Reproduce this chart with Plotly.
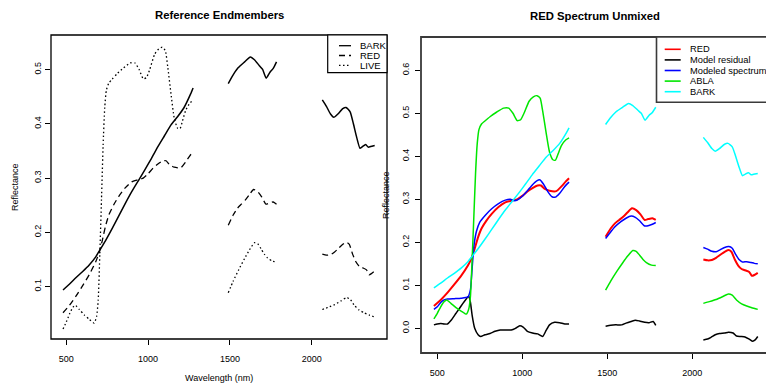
import plotly.graph_objects as go

# ---------------- data ----------------
BARK_WL = [480, 520, 560, 600, 640, 680, 700, 740, 780, 820, 860, 900, 940, 980, 1020, 1060, 1100, 1140, 1180, 1220, 1260, 1275, None,
           1490, 1520, 1550, 1590, 1625, 1650, 1680, 1700, 1722, 1745, 1765, 1785, None,
           2065, 2090, 2115, 2135, 2160, 2190, 2210, 2235, 2255, 2275, 2295, 2310, 2330, 2345, 2360, 2385]
BARK_R = [0.094, 0.105, 0.117, 0.128, 0.140, 0.155, 0.165, 0.185, 0.207, 0.230, 0.253, 0.275, 0.295, 0.315, 0.336, 0.358, 0.378, 0.398, 0.413, 0.430, 0.455, 0.466, None,
          0.474, 0.490, 0.503, 0.514, 0.523, 0.518, 0.507, 0.500, 0.484, 0.495, 0.502, 0.514, None,
          0.444, 0.432, 0.418, 0.412, 0.418, 0.428, 0.430, 0.422, 0.400, 0.375, 0.355, 0.358, 0.362, 0.357, 0.358, 0.360]

RED_WL = [480, 520, 560, 600, 640, 680, 700, 720, 740, 760, 790, 820, 860, 900, 940, 970, 1000, 1030, 1060, 1090, 1110, 1130, 1160, 1200, 1230, 1255, 1275, None,
          1490, 1520, 1545, 1570, 1595, 1620, 1645, 1670, 1695, 1720, 1740, 1765, 1785, None,
          2065, 2090, 2115, 2140, 2165, 2190, 2212, 2230, 2250, 2270, 2290, 2310, 2335, 2350, 2365, 2385]
RED_R = [0.052, 0.066, 0.083, 0.102, 0.122, 0.146, 0.162, 0.185, 0.212, 0.232, 0.251, 0.266, 0.282, 0.293, 0.297, 0.300, 0.308, 0.318, 0.326, 0.332, 0.332, 0.325, 0.320, 0.319, 0.330, 0.341, 0.349, None,
         0.213, 0.232, 0.244, 0.252, 0.260, 0.270, 0.279, 0.275, 0.265, 0.252, 0.254, 0.256, 0.252, None,
         0.160, 0.158, 0.159, 0.164, 0.171, 0.178, 0.182, 0.178, 0.160, 0.146, 0.138, 0.135, 0.131, 0.122, 0.124, 0.129]

LIVE_WL = [480, 500, 520, 540, 555, 580, 610, 640, 670, 685, 695, 705, 715, 725, 735, 745, 760, 780, 810, 850, 890, 920, 945, 970, 990, 1010, 1040, 1065, 1087, 1105, 1120, 1140, 1160, 1180, 1195, 1210, 1230, 1255, 1275, None,
           1490, 1520, 1555, 1590, 1620, 1650, 1670, 1690, 1710, 1730, 1760, 1785, None,
           2065, 2100, 2140, 2180, 2212, 2235, 2260, 2290, 2320, 2350, 2385]
LIVE_R = [0.022, 0.035, 0.050, 0.062, 0.066, 0.058, 0.048, 0.040, 0.033, 0.045, 0.075, 0.160, 0.260, 0.360, 0.430, 0.462, 0.475, 0.482, 0.492, 0.503, 0.512, 0.512, 0.500, 0.483, 0.485, 0.500, 0.528, 0.538, 0.541, 0.535, 0.505, 0.455, 0.410, 0.392, 0.391, 0.405, 0.425, 0.438, 0.443, None,
          0.089, 0.110, 0.132, 0.152, 0.168, 0.181, 0.179, 0.170, 0.160, 0.153, 0.147, 0.146, None,
          0.058, 0.062, 0.067, 0.074, 0.080, 0.077, 0.066, 0.057, 0.052, 0.048, 0.044]

MOD_WL = [480, 500, 520, 540, 560, 600, 640, 680, 695, 705, 715, 730, 750, 780, 820, 860, 900, 930, 950, 970, 1000, 1030, 1060, 1085, 1105, 1125, 1150, 1175, 1195, 1220, 1250, 1275, None,
          1490, 1520, 1545, 1580, 1610, 1640, 1665, 1690, 1720, 1745, 1765, 1785, None,
          2065, 2090, 2115, 2140, 2165, 2190, 2215, 2235, 2255, 2275, 2295, 2320, 2345, 2365, 2385]
MOD_R = [0.044, 0.050, 0.060, 0.066, 0.068, 0.069, 0.070, 0.073, 0.090, 0.140, 0.190, 0.225, 0.247, 0.262, 0.278, 0.290, 0.298, 0.300, 0.297, 0.298, 0.307, 0.320, 0.334, 0.343, 0.345, 0.335, 0.318, 0.306, 0.305, 0.314, 0.330, 0.340, None,
         0.209, 0.224, 0.236, 0.248, 0.256, 0.261, 0.258, 0.250, 0.238, 0.239, 0.242, 0.246, None,
         0.188, 0.184, 0.179, 0.178, 0.183, 0.188, 0.190, 0.186, 0.172, 0.160, 0.154, 0.155, 0.153, 0.151, 0.150]

RES_WL = [480, 500, 520, 540, 560, 580, 610, 640, 670, 685, 695, 705, 720, 740, 755, 780, 810, 840, 870, 900, 935, 960, 985, 1005, 1030, 1060, 1090, 1120, 1140, 1160, 1190, 1220, 1250, 1275, None,
          1490, 1520, 1550, 1585, 1610, 1640, 1665, 1690, 1720, 1745, 1770, 1785, None,
          2065, 2090, 2110, 2135, 2160, 2190, 2212, 2240, 2260, 2285, 2310, 2335, 2355, 2370, 2385]
RES_R = [0.008, 0.010, 0.011, 0.010, 0.010, 0.018, 0.035, 0.052, 0.068, 0.075, 0.060, 0.030, 0.000, -0.015, -0.019, -0.015, -0.012, -0.007, -0.004, -0.004, -0.004, 0.000, 0.006, 0.003, -0.007, -0.011, -0.013, -0.019, -0.005, 0.008, 0.014, 0.013, 0.010, 0.010, None,
         0.005, 0.007, 0.008, 0.008, 0.012, 0.016, 0.019, 0.017, 0.014, 0.013, 0.016, 0.007, None,
         -0.027, -0.025, -0.021, -0.015, -0.012, -0.011, -0.009, -0.011, -0.018, -0.019, -0.020, -0.025, -0.030, -0.027, -0.019]

X_TICKS = [500, 1000, 1500, 2000]
Y1_TICKS = [0.1, 0.2, 0.3, 0.4, 0.5]
Y2_TICKS = [0.0, 0.1, 0.2, 0.3, 0.4, 0.5, 0.6]
LEFT_LEGEND = ["BARK", "RED", "LIVE"]
RIGHT_LEGEND = ["RED", "Model residual", "Modeled spectrum", "ABLA", "BARK"]

# ---------------- figure ----------------
W, H = 766, 390
FONT = "Liberation Sans, Arial, sans-serif"


def px(x):
    return x / W


def py(y):
    return 1 - y / H


fig = go.Figure()
LS = dict(shape="spline", smoothing=0.5)

# left panel
fig.add_trace(go.Scatter(x=BARK_WL, y=BARK_R, mode="lines", line=dict(color="black", width=1.5, **LS), xaxis="x", yaxis="y"))
fig.add_trace(go.Scatter(x=RED_WL, y=RED_R, mode="lines", line=dict(color="black", width=1.3, dash="6px,4px", **LS), xaxis="x", yaxis="y"))
fig.add_trace(go.Scatter(x=LIVE_WL, y=LIVE_R, mode="lines", line=dict(color="black", width=1.3, dash="1.5px,2.5px", **LS), xaxis="x", yaxis="y"))

# right panel
RC = {"RED": "#FF0000", "Model residual": "#000000", "Modeled spectrum": "#0000FF", "ABLA": "#00E600", "BARK": "#00FFFF"}
fig.add_trace(go.Scatter(x=RED_WL, y=RED_R, mode="lines", line=dict(color=RC["RED"], width=2, **LS), xaxis="x2", yaxis="y2"))
fig.add_trace(go.Scatter(x=RES_WL, y=RES_R, mode="lines", line=dict(color=RC["Model residual"], width=1.5, **LS), xaxis="x2", yaxis="y2"))
fig.add_trace(go.Scatter(x=MOD_WL, y=MOD_R, mode="lines", line=dict(color=RC["Modeled spectrum"], width=1.5, **LS), xaxis="x2", yaxis="y2"))
fig.add_trace(go.Scatter(x=LIVE_WL, y=LIVE_R, mode="lines", line=dict(color=RC["ABLA"], width=1.5, **LS), xaxis="x2", yaxis="y2"))
fig.add_trace(go.Scatter(x=BARK_WL, y=BARK_R, mode="lines", line=dict(color=RC["BARK"], width=1.5, **LS), xaxis="x2", yaxis="y2"))

# panel geometry (pixels)
L1, R1, T1, B1 = 51, 387, 35, 339
L2, R2, T2, B2 = 421, 769, 37, 353

axis_common = dict(showgrid=False, zeroline=False, showline=False, ticks="outside", ticklen=5,
                   tickwidth=1, tickcolor="black", tickfont=dict(family=FONT, size=9, color="black"))

fig.update_layout(
    width=W, height=H, margin=dict(l=0, r=0, t=0, b=0),
    paper_bgcolor="white", plot_bgcolor="white", showlegend=False,
    xaxis=dict(domain=[px(L1), px(R1)], range=[406.5, 2460.3], tickvals=X_TICKS, anchor="y",
               ticklabelstandoff=6, **axis_common),
    yaxis=dict(domain=[py(B1), py(T1)], range=[0.0037, 0.5635], tickvals=Y1_TICKS, tickformat=".1f",
               tickangle=-90, anchor="x", ticklabelstandoff=0, **axis_common),
    xaxis2=dict(domain=[px(L2), 1.0], range=[404.1, 2433.5], tickvals=X_TICKS, anchor="y2",
                ticklabelstandoff=6, **axis_common),
    yaxis2=dict(domain=[py(B2), py(T2)], range=[-0.0574, 0.6774], tickvals=Y2_TICKS, tickformat=".1f",
                tickangle=-90, anchor="x2", ticklabelstandoff=2, **axis_common),
)

shapes = []
ann = []
# plot boxes
shapes.append(dict(type="rect", xref="paper", yref="paper", x0=px(L1), x1=px(R1), y0=py(B1), y1=py(T1),
                   line=dict(color="black", width=1.3), layer="above"))
shapes.append(dict(type="rect", xref="paper", yref="paper", x0=px(L2), x1=px(R2 + 2), y0=py(B2), y1=py(T2),
                   line=dict(color="#3a3a3a", width=1.8), layer="above"))

# left legend
shapes.append(dict(type="rect", xref="paper", yref="paper", x0=px(327.7), x1=px(R1), y0=py(72.7), y1=py(T1),
                   line=dict(color="black", width=1.2), fillcolor="white", layer="above"))
left_dash = ["solid", "6px,4px", "1.5px,2.5px"]
for i, name in enumerate(LEFT_LEGEND):
    yy = 45.7 + i * 9.8
    shapes.append(dict(type="line", xref="paper", yref="paper", x0=px(339), x1=px(351), y0=py(yy), y1=py(yy),
                       line=dict(color="black", width=1.3, dash=left_dash[i]), layer="above"))
    ann.append(dict(x=px(357.5), y=py(yy), xref="paper", yref="paper", text=name, showarrow=False,
                    xanchor="left", yanchor="middle", font=dict(family=FONT, size=9.5, color="black")))

# right legend
shapes.append(dict(type="rect", xref="paper", yref="paper", x0=px(656.5), x1=px(790), y0=py(102.3), y1=py(T2),
                   line=dict(color="#3a3a3a", width=1.6), fillcolor="white", layer="above"))
for i, name in enumerate(RIGHT_LEGEND):
    yy = 49.3 + i * 10.6
    shapes.append(dict(type="line", xref="paper", yref="paper", x0=px(664.7), x1=px(680.7), y0=py(yy), y1=py(yy),
                       line=dict(color=RC[name], width=1.6), layer="above"))
    ann.append(dict(x=px(687.5), y=py(yy), xref="paper", yref="paper", text=name, showarrow=False,
                    xanchor="left", yanchor="middle", font=dict(family=FONT, size=9.3, color="black")))

# titles
ann.append(dict(x=px((L1 + R1) / 2), y=py(15.5), xref="paper", yref="paper", text="<b>Reference Endmembers</b>",
                showarrow=False, xanchor="center", yanchor="middle", font=dict(family=FONT, size=11.3, color="black")))
ann.append(dict(x=px((L2 + R2) / 2), y=py(16), xref="paper", yref="paper", text="<b>RED Spectrum Unmixed</b>",
                showarrow=False, xanchor="center", yanchor="middle", font=dict(family=FONT, size=11.3, color="black")))
# axis titles
ann.append(dict(x=px((L1 + R1) / 2), y=py(378), xref="paper", yref="paper", text="Wavelength (nm)",
                showarrow=False, xanchor="center", yanchor="middle", font=dict(family=FONT, size=9, color="black")))
ann.append(dict(x=px(15), y=py((T1 + B1) / 2), xref="paper", yref="paper", text="Reflectance", textangle=-90,
                showarrow=False, xanchor="center", yanchor="middle", font=dict(family=FONT, size=9, color="black")))
ann.append(dict(x=px(386), y=py((T2 + B2) / 2), xref="paper", yref="paper", text="Reflectance", textangle=-90,
                showarrow=False, xanchor="center", yanchor="middle", font=dict(family=FONT, size=9, color="black")))

fig.update_layout(shapes=shapes, annotations=ann)
fig.write_html("out.html", config={"displayModeBar": False},
               post_script="document.body.style.margin='0';document.body.style.padding='0';")
